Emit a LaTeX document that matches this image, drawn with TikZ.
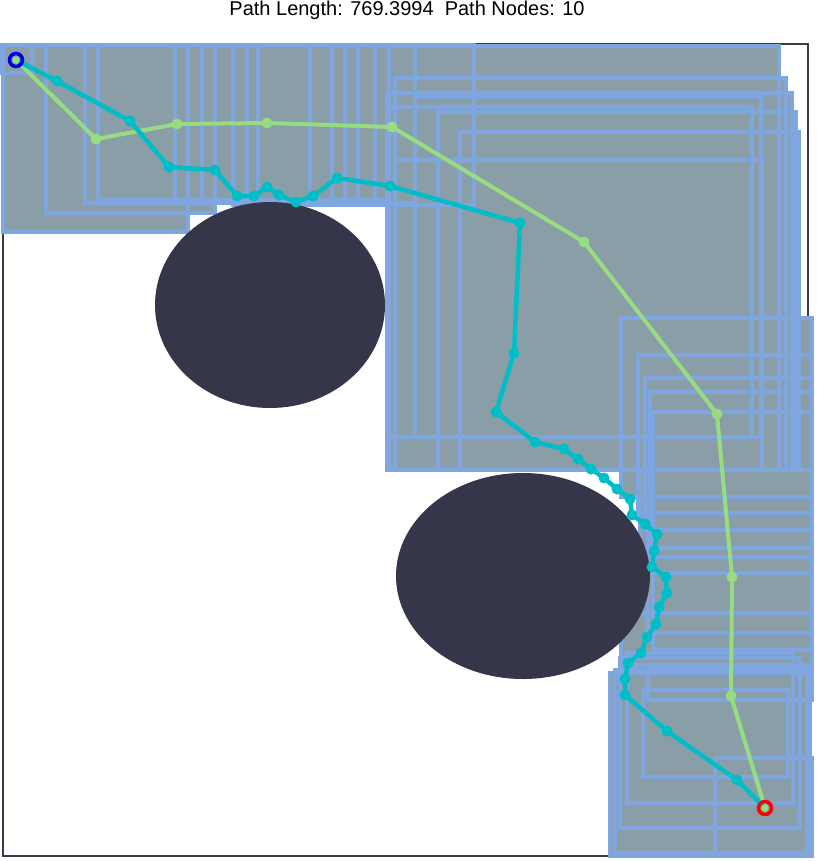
\documentclass[tikz,border=0pt]{standalone}
\usepackage{fontspec}
\setmainfont{Liberation Sans}
\definecolor{rfill}{RGB}{138,158,167}
\definecolor{redge}{RGB}{128,166,224}
\definecolor{obst}{RGB}{54,54,74}
\definecolor{cpath}{RGB}{0,190,200}
\definecolor{gpath}{RGB}{152,220,130}
\definecolor{frame}{RGB}{58,58,74}
\begin{document}
\begin{tikzpicture}[x=1pt,y=-1pt,
  cellfill/.style={fill=rfill},
  celledge/.style={draw=redge,line width=4.5pt},
  obstacle/.style={fill=obst},
  cline/.style={draw=cpath,line width=4.5pt,line join=round},
  gline/.style={draw=gpath,line width=4pt,line join=round},
  cdot/.style={fill=cpath},
  gdot/.style={fill=gpath}]
\useasboundingbox (0,0) rectangle (816,861);
\fill[white] (0,0) rectangle (816,861);
\node[font=\fontsize{20}{22}\selectfont,anchor=center,inner sep=0pt] (title) at (407,10) {Path Length: 769.3994\ \ Path Nodes: 10};
\draw[frame,line width=2pt] (3,44) rectangle (808,856);
\def\rects{3/45/188/232, 46/45/215/213, 85/45/415/203, 98/45/389/200, 175/45/345/200,
 202/45/358/200, 233/45/332/205, 247/45/375/200, 258/45/310/200, 310/45/474/205, 2/45/32/73,
 389/46/779/470, 395/78/786/470, 387/93/792/470, 415/97/761/437, 438/112/796/470, 460/132/799/470,
 387/107/752/437, 395/160/762/470,
 621/318/812/497, 638/355/812/513, 645/378/812/530, 650/392/812/548, 653/412/812/573,
 640/470/812/613, 648/497/812/633, 653/513/812/650, 621/557/812/665,
 610/673/810/856, 615/670/807/853, 620/658/800/828, 627/653/793/803, 643/690/788/777,
 648/668/812/700, 715/758/812/856}
\foreach \a/\b/\c/\d in \rects {\path[cellfill] (\a,\b) rectangle (\c,\d);}
\foreach \a/\b/\c/\d in \rects {\path[celledge] (\a,\b) rectangle (\c,\d);}
\path[obstacle] (270,305) ellipse [x radius=115, y radius=103];
\path[obstacle] (523,576) ellipse [x radius=127, y radius=103];
% green path
\foreach \n/\x/\y in {1/16/60,2/96/139,3/177/124,4/267/123,5/392/127,6/584/242,7/717/414,8/732/577,9/731/696,10/765/808}
  {\coordinate (g\n) at (\x,\y);}
\draw[gline] (g1) -- (g2) -- (g3) -- (g4) -- (g5) -- (g6) -- (g7) -- (g8) -- (g9) -- (g10);
\foreach \n in {2,...,9} {\path[gdot] (g\n) circle (5.5);}
% cyan path
\foreach \n/\x/\y in {1/16/60,2/57/81,3/130/121,4/169/167,5/215/170,6/237/196,7/254/196,8/267/187,
 9/279/195,10/296/202,11/313/196,12/337/178,13/390/186,14/520/223,15/514/353,16/496/412,
 17/535/442,18/564/449,19/578/459,20/591/469,21/604/478,22/617/489,23/630/499,24/632/515,
 25/645/524,26/657/534,27/654/551,28/652/567,29/666/577,30/667/593,31/659/607,32/656/624,
 33/647/637,34/641/653,35/628/663,36/625/679,37/625/695,38/667/731,39/737/780,40/765/808}
  {\coordinate (c\n) at (\x,\y);}
\draw[cline] (c1) \foreach \n in {2,...,40} { -- (c\n)};
\foreach \n in {2,...,39} {\path[cdot] (c\n) circle (5.5);}
\path[gdot] (g10) circle (3.5);
\path[gdot] (g1) circle (3.5);
\node[circle,draw=blue!90!black,line width=3.5pt,minimum size=13pt,inner sep=0pt] (start) at (g1) {};
\node[circle,draw=red,line width=3.5pt,minimum size=13pt,inner sep=0pt] (goal) at (g10) {};
\end{tikzpicture}
\end{document}
